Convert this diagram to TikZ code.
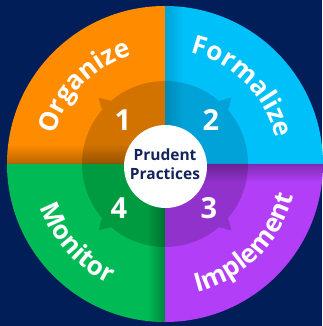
\documentclass[tikz,border=0pt]{standalone}
\usepackage{fontspec}
\setmainfont{Open Sans}
\usetikzlibrary{decorations.text,fadings}
\definecolor{bgnavy}{RGB}{2,30,88}
\definecolor{orangeO}{RGB}{255,140,0}
\definecolor{orangeI}{RGB}{210,115,0}
\definecolor{cyanO}{RGB}{0,192,250}
\definecolor{cyanI}{RGB}{0,162,215}
\definecolor{purpleO}{RGB}{178,62,248}
\definecolor{purpleI}{RGB}{146,50,205}
\definecolor{greenO}{RGB}{0,187,85}
\definecolor{greenI}{RGB}{0,155,65}
\definecolor{navytext}{RGB}{20,36,90}
\newcommand{\lblfont}{\fontsize{26}{26}\selectfont\bfseries}
\tikzset{
  digit/.style={text=white, font=\fontsize{29}{29}\selectfont\bfseries, inner sep=0pt},
  hubtext/.style={text=navytext, font=\fontsize{15.5}{19}\selectfont\bfseries, align=center, inner sep=0pt},
  hub/.style={circle, fill=white, minimum size=83pt, inner sep=0pt},
  shadowfill/.style={fill=black, opacity=0.28},
  arclbl/.style={decorate, decoration={text along path, text align=center, text color=white, text={|\lblfont|#1}}}
}
\begin{document}
\begin{tikzpicture}[x=1pt,y=1pt]
\fill[bgnavy] (-165,-162) rectangle (157,164);
\useasboundingbox (-165,-162) rectangle (157,164);
% outer quadrants
\fill[orangeO] (0,0) -- (180:158) arc (180:90:158) -- cycle;
\fill[cyanO] (0,0) -- (90:158) arc (90:0:158) -- cycle;
\fill[purpleO] (0,0) -- (0:158) arc (0:-90:158) -- cycle;
\fill[greenO] (0,0) -- (270:158) arc (270:180:158) -- cycle;
% inner ring with spikes
\fill[orangeI] (0,0) -- (90:83) arc (90:130.5:83) -- (135:94) -- (139.5:83) arc (139.5:180:83) -- cycle;
\fill[cyanI] (0,0) -- (0:83) arc (0:40.5:83) -- (45:94) -- (49.5:83) arc (49.5:90:83) -- cycle;
\fill[purpleI] (0,0) -- (-90:83) arc (-90:-49.5:83) -- (-45:94) -- (-40.5:83) arc (-40.5:0:83) -- cycle;
\fill[greenI] (0,0) -- (180:83) arc (180:220.5:83) -- (225:94) -- (229.5:83) arc (229.5:270:83) -- cycle;
% tuck shadows
\begin{scope}
\clip (0,0) -- (180:158) arc (180:90:158) -- cycle;
\fill[shadowfill, path fading=north] (-165,0) rectangle (0,20);
\end{scope}
\begin{scope}
\clip (0,0) -- (270:158) arc (270:180:158) -- cycle;
\fill[shadowfill, path fading=west] (-18,-165) rectangle (0,0);
\end{scope}
\begin{scope}
\clip (0,0) -- (0:158) arc (0:-90:158) -- cycle;
\fill[shadowfill, path fading=south] (0,-18) rectangle (165,0);
\end{scope}
\begin{scope}
\clip (0,0) -- (90:158) arc (90:0:158) -- cycle;
\fill[shadowfill, opacity=0.15, path fading=east] (0,0) rectangle (18,165);
\end{scope}
% curved labels
\path[arclbl=Organize] (181:114) arc (181:91:114);
\path[arclbl=Formalize] (90:114) arc (90:0:114);
\path[arclbl=Implement] (-90:132) arc (-90:0:132);
\path[arclbl=Monitor] (177:132) arc (177:267:132);
% digits
\node[digit] (n1) at (-42,44) {1};
\node[digit] (n2) at (46,44) {2};
\node[digit] (n3) at (44,-44) {3};
\node[digit] (n4) at (-46,-44) {4};
% hub
\node[hub] (hub) at (0.5,-2.5) {};
\node[hubtext] (hublabel) at (0,0) {Prudent\\Practices};
\end{tikzpicture}
\end{document}
